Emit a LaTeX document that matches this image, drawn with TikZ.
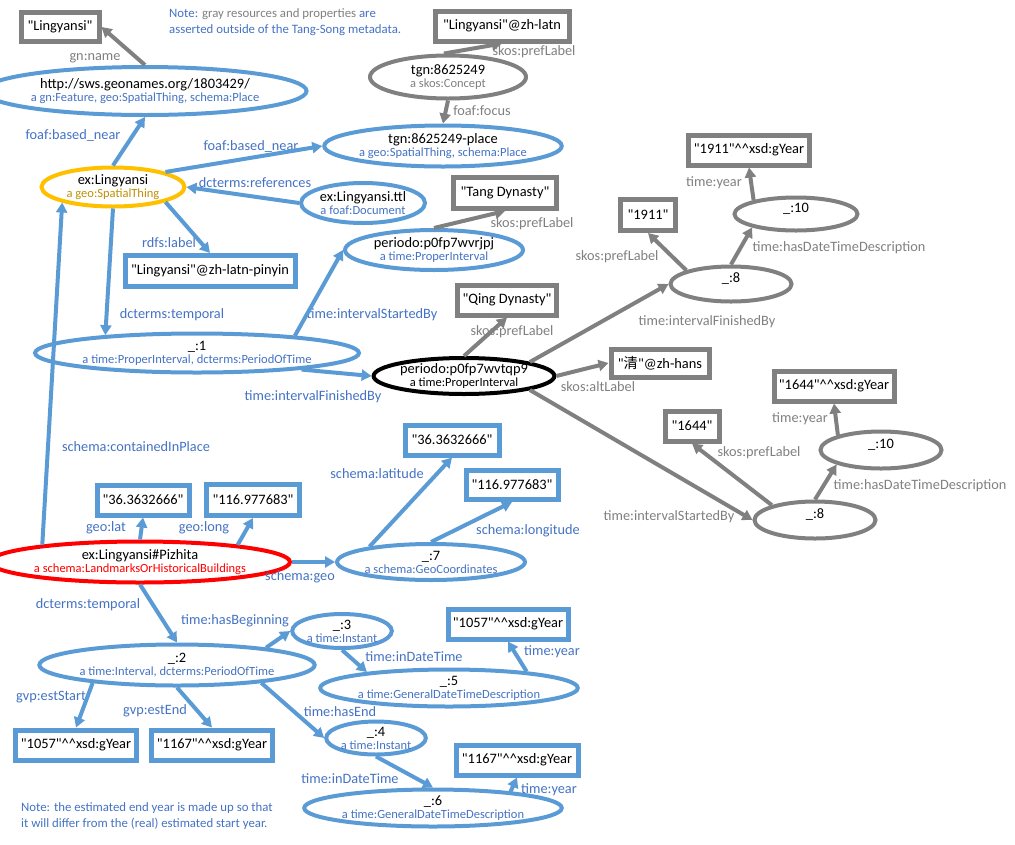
\documentclass[tikz,border=0pt]{standalone}
\usepackage{fontspec}
\setmainfont{Carlito}[Ligatures=TeXOff]
\newfontfamily\cjk{Noto Sans CJK SC}
\usetikzlibrary{shapes.geometric,arrows.meta}

\definecolor{rdfblue}{HTML}{5B9BD5}
\definecolor{txtblue}{HTML}{4472C4}
\definecolor{rdfgray}{HTML}{808080}
\definecolor{rdforange}{HTML}{FFC000}
\definecolor{txtorange}{HTML}{BF9000}
\newcommand{\rname}[1]{{\color{black}\fontsize{14.4}{14}\selectfont #1}}
\newcommand{\dhat}{\textasciicircum\textasciicircum}

\begin{document}
\begin{tikzpicture}[x=1pt, y=-1pt, >={Triangle[length=10pt,width=11pt]},
  sz/.style 2 args={minimum width=#1pt, minimum height=#2pt},
  res/.style={ellipse, draw=rdfblue, line width=4pt, inner sep=0pt, align=center,
    text=txtblue, font=\fontsize{12.5}{13}\selectfont},
  gres/.style={res, draw=rdfgray, text=rdfgray},
  lit/.style={draw=rdfblue, line width=5pt, inner sep=0pt, font=\fontsize{14.4}{16}\selectfont},
  glit/.style={lit, draw=rdfgray},
  prop/.style={->, draw=rdfblue, line width=4pt},
  gprop/.style={prop, draw=rdfgray},
  plbl/.style={inner sep=0pt, text=txtblue, font=\fontsize{14.3}{16}\selectfont},
  gplbl/.style={plbl, text=rdfgray}]
  \useasboundingbox (0,0) rectangle (1015,844);

  % notes
  \node[anchor=north west, align=left, inner sep=0pt, text=txtblue,
    font=\fontsize{12.8}{16.5}\selectfont] (topnote) at (169,8)
    {Note: {\color{rdfgray}gray resources and properties} are\\
     asserted outside of the Tang-Song metadata.};
  \node[anchor=north west, align=left, inner sep=0pt, text=txtblue,
    font=\fontsize{12.8}{16}\selectfont] (endnote) at (21,802)
    {Note: the estimated end year is made up so that\\
     it will differ from the (real) estimated start year.};

  % places
  \node[res, sz={273}{48}] (geon) at (145,91)
    {\rname{http://sws.geonames.org/1803429/}\\ a gn:Feature, geo:SpatialThing, schema:Place};
  \node[gres, sz={156}{43}] (tgn) at (448,77) {\rname{tgn:8625249}\\ a skos:Concept};
  \node[res, sz={216}{41}] (tgnplace) at (443,146)
    {\rname{tgn:8625249-place}\\ a geo:SpatialThing, schema:Place};
  \node[res, sz={143}{39}, draw=rdforange, text=txtorange] (ling) at (113,187)
    {\rname{ex:Lingyansi}\\ a geo:SpatialThing};
  \node[res, sz={124}{40}] (ttl) at (363,203) {\rname{ex:Lingyansi.ttl}\\ a foaf:Document};
  \node[glit, sz={78}{29}] (lzh) at (60,27) {"Lingyansi"};
  \node[glit, sz={134}{30}] (zhlatn) at (502,26) {"Lingyansi"@zh-latn};
  \node[lit, sz={170}{31}] (pinyin) at (210,271) {"Lingyansi"@zh-latn-pinyin};

  % periods
  \node[res, sz={178}{40}] (rjpj) at (434,250) {\rname{periodo:p0fp7wvrjpj}\\ a time:ProperInterval};
  \node[glit, sz={103}{31}] (tang) at (505,193) {"Tang Dynasty"};
  \node[res, sz={243}{39}] (b1) at (197,353)
    {\rname{\_:1}\\ a time:ProperInterval, dcterms:PeriodOfTime};
  \node[res, sz={178}{36}, draw=black, text=black] (tqp9) at (464,376)
    {\rname{periodo:p0fp7wvtqp9}\\ a time:ProperInterval};
  \node[glit, sz={99}{30}] (qing) at (507,300) {"Qing Dynasty"};
  \node[glit, sz={98}{28}] (alt) at (660,363) {"{\cjk 清}"@zh-hans};

  % Qing end and start
  \node[gres, sz={121}{35}] (e8a) at (731,284) {\rname{\_:8}\\ \mbox{}};
  \node[gres, sz={123}{33}] (e10a) at (796,214) {\rname{\_:10}\\ \mbox{}};
  \node[glit, sz={55}{31}] (y1911) at (648,215) {"1911"};
  \node[glit, sz={121}{30}] (y1911g) at (749,150) {"1911"\dhat xsd:gYear};
  \node[gres, sz={121}{37}] (e8b) at (815,520) {\rname{\_:8}\\ \mbox{}};
  \node[gres, sz={121}{37}] (e10b) at (881,450) {\rname{\_:10}\\ \mbox{}};
  \node[glit, sz={54}{30}] (y1644) at (692,426) {"1644"};
  \node[glit, sz={120}{30}] (y1644g) at (834,386) {"1644"\dhat xsd:gYear};

  % the pagoda
  \node[res, sz={243}{41}, draw=red, text=red] (piz) at (140,562)
    {\rname{ex:Lingyansi\#Pizhita}\\ a schema:LandmarksOrHistoricalBuildings};
  \node[lit, sz={92}{30}] (lat1) at (143,500) {"36.3632666"};
  \node[lit, sz={93}{31}] (long1) at (253,500) {"116.977683"};
  \node[res, sz={169}{36}] (b7) at (431,562) {\rname{\_:7}\\ a schema:GeoCoordinates};
  \node[lit, sz={94}{30}] (lat2) at (452,440) {"36.3632666"};
  \node[lit, sz={92}{29}] (long2) at (512,485) {"116.977683"};

  % its dates
  \node[res, sz={213}{41}] (b2) at (177,665) {\rname{\_:2}\\ a time:Interval, dcterms:PeriodOfTime};
  \node[res, sz={96}{34}] (b3) at (342,631) {\rname{\_:3}\\ a time:Instant};
  \node[res, sz={197}{37}] (b5) at (449,688) {\rname{\_:5}\\ a time:GeneralDateTimeDescription};
  \node[res, sz={97}{33}] (b4) at (376,738) {\rname{\_:4}\\ a time:Instant};
  \node[res, sz={196}{37}] (b6) at (433,808) {\rname{\_:6}\\ a time:GeneralDateTimeDescription};
  \node[lit, sz={121}{30}] (est1057) at (76,745) {"1057"\dhat xsd:gYear};
  \node[lit, sz={121}{30}] (est1167) at (212,745) {"1167"\dhat xsd:gYear};
  \node[lit, sz={120}{30}] (y1057) at (508,624) {"1057"\dhat xsd:gYear};
  \node[lit, sz={122}{30}] (y1167) at (517,760) {"1167"\dhat xsd:gYear};

  % property labels
  \node[gplbl] (l-gnname) at (95,58) {gn:name};
  \node[gplbl] (l-pref1) at (534,52) {skos:prefLabel};
  \node[gplbl] (l-focus) at (482,111) {foaf:focus};
  \node[plbl] (l-near1) at (73,135) {foaf:based\_near};
  \node[plbl] (l-near2) at (251,146) {foaf:based\_near};
  \node[plbl] (l-refs) at (255,183) {dcterms:references};
  \node[plbl] (l-label) at (169,243) {rdfs:label};
  \node[plbl] (l-temp1) at (172,315) {dcterms:temporal};
  \node[plbl] (l-start1) at (372,315) {time:intervalStartedBy};
  \node[plbl] (l-fin1) at (313,397) {time:intervalFinishedBy};
  \node[gplbl] (l-pref2) at (532,224) {skos:prefLabel};
  \node[gplbl] (l-pref3) at (512,332) {skos:prefLabel};
  \node[gplbl] (l-alt) at (598,387) {skos:altLabel};
  \node[gplbl] (l-fin2) at (707,322) {time:intervalFinishedBy};
  \node[gplbl] (l-pref4) at (617,257) {skos:prefLabel};
  \node[gplbl] (l-desc1) at (839,248) {time:hasDateTimeDescription};
  \node[gplbl] (l-year1) at (714,183) {time:year};
  \node[gplbl] (l-start2) at (669,517) {time:intervalStartedBy};
  \node[gplbl] (l-pref5) at (759,453) {skos:prefLabel};
  \node[gplbl] (l-desc2) at (920,486) {time:hasDateTimeDescription};
  \node[gplbl] (l-year2) at (800,419) {time:year};
  \node[plbl] (l-contained) at (136,447) {schema:containedInPlace};
  \node[plbl] (l-lat1) at (106,528) {geo:lat};
  \node[plbl] (l-long1) at (204,528) {geo:long};
  \node[plbl] (l-lat2) at (377,474) {schema:latitude};
  \node[plbl] (l-long2) at (528,531) {schema:longitude};
  \node[plbl] (l-geo) at (300,577) {schema:geo};
  \node[plbl] (l-temp2) at (88,605) {dcterms:temporal};
  \node[plbl] (l-begin) at (235,621) {time:hasBeginning};
  \node[plbl] (l-idt1) at (414,657) {time:inDateTime};
  \node[plbl] (l-year3) at (552,652) {time:year};
  \node[plbl] (l-estart) at (51,697) {gvp:estStart};
  \node[plbl] (l-eend) at (155,711) {gvp:estEnd};
  \node[plbl] (l-end) at (340,712) {time:hasEnd};
  \node[plbl] (l-idt2) at (350,779) {time:inDateTime};
  \node[plbl] (l-year4) at (549,790) {time:year};

  % arrows
  \draw[gprop] (geon.north) -- (lzh.east);
  \draw[gprop] (tgn.100) -- (zhlatn.south);
  \draw[gprop] (tgn.south) -- (tgnplace.north);
  \draw[prop] (ling.north) -- (geon.south);
  \draw[prop] (ling.16) -- (tgnplace.west);
  \draw[prop] (ttl.west) -- (ling.east);
  \draw[prop] (ling.-16) -- (pinyin.north);
  \draw[prop] (ling.south) -- (b1.169);
  \draw[prop] (b1.10) -- (rjpj.west);
  \draw[prop] (b1.-9) -- (tqp9.west);
  \draw[gprop] (rjpj.north) -- (tang.south);
  \draw[gprop] (tqp9.north) -- (qing.south);
  \draw[gprop] (tqp9.12) -- (e8a.west);
  \draw[gprop] (tqp9.east) -- (alt.west);
  \draw[gprop] (tqp9.-12) -- (e8b.west);
  \draw[gprop] (e8a.163) -- (y1911.south);
  \draw[gprop] (e8a.north) -- (e10a.197);
  \draw[gprop] (e10a.162) -- (y1911g.south);
  \draw[gprop] (e8b.161) -- (y1644.south);
  \draw[gprop] (e8b.north) -- (e10b.198);
  \draw[gprop] (e10b.161) -- (y1644g.south);
  \draw[prop] (piz.170) -- (ling.197);
  \draw[prop] (piz.north) -- (lat1.south);
  \draw[prop] (piz.10) -- (long1.south);
  \draw[prop] (piz.east) -- (b7.west);
  \draw[prop] (b7.166) -- (lat2.south);
  \draw[prop] (b7.north) -- (long2.south);
  \draw[prop] (piz.south) -- (b2.north);
  \draw[prop] (b2.11) -- (b3.west);
  \draw[prop] (b2.192) -- (est1057.north);
  \draw[prop] (b2.south) -- (est1167.north);
  \draw[prop] (b2.-12) -- (b4.west);
  \draw[prop] (b3.south) -- (b5.169);
  \draw[prop] (b5.12) -- (y1057.south);
  \draw[prop] (b4.south) -- (b6.north);
  \draw[prop] (b6.12) -- (y1167.south);
\end{tikzpicture}
\end{document}
